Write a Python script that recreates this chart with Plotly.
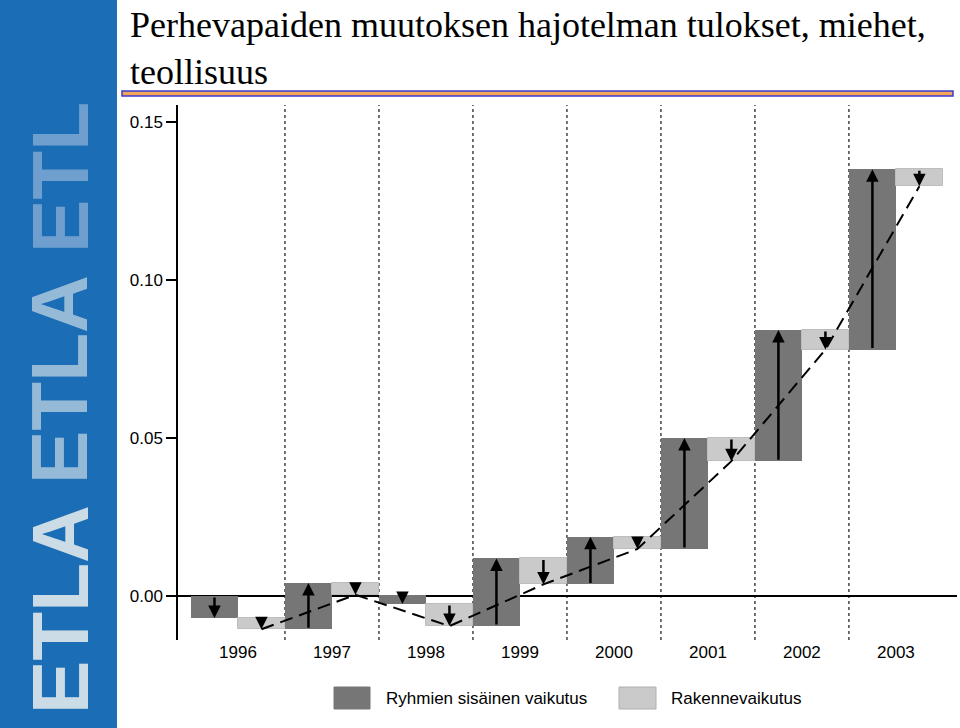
import plotly.graph_objects as go

# ---------------- data ----------------
years = ["1996", "1997", "1998", "1999", "2000", "2001", "2002", "2003"]
within_effect = [-0.0069, 0.0146, -0.0029, 0.0214, 0.0151, 0.0351, 0.0415, 0.0571]
structure_effect = [-0.0036, -0.0037, -0.0070, -0.0082, -0.0039, -0.0073, -0.0062, -0.0054]
series_names = ["Ryhmien sisäinen vaikutus", "Rakennevaikutus"]
y_ticks = [0.00, 0.05, 0.10, 0.15]
title_text = "Perhevapaiden muutoksen hajotelman tulokset, miehet,<br>teollisuus"
logo_words = ["ETLA", "ETLA", "ETL"]

# ---------------- styles ----------------
DARK = "#767676"
LIGHT = "#cacaca"
SANS = "Liberation Sans, Arial, sans-serif"
SERIF = "Liberation Serif, Times New Roman, serif"

W, H = 960, 728
ML, MR, MT, MB = 178, 3, 105, 88
PW, PH = W - ML - MR, H - MT - MB


def px_x(p):
    return (p - ML) / PW


def px_y(p):
    return (H - MB - p) / PH


# cumulative waterfall levels
start, mid, end = [], [], []
c = 0.0
for w, s in zip(within_effect, structure_effect):
    start.append(c)
    c += w
    mid.append(c)
    c += s
    end.append(c)

n = len(years)
x_dark = [i + 0.25 for i in range(n)]
x_light = [i + 0.75 for i in range(n)]

fig = go.Figure()
fig.add_trace(go.Bar(
    x=x_dark, y=within_effect, base=start, width=0.5,
    marker=dict(color=DARK, line=dict(width=0)),
    name=series_names[0], showlegend=False, hoverinfo="skip"))
fig.add_trace(go.Bar(
    x=x_light, y=structure_effect, base=mid, width=0.5,
    marker=dict(color=LIGHT, line=dict(color="#bdbdbd", width=1)),
    name=series_names[1], showlegend=False, hoverinfo="skip"))
fig.add_trace(go.Scatter(
    x=x_light, y=end, mode="lines",
    line=dict(color="black", width=2, dash="13px,7px"),
    showlegend=False, hoverinfo="skip"))

annotations = []
for i in range(n):
    for xx, y0, y1 in ((x_dark[i], start[i], mid[i]), (x_light[i], mid[i], end[i])):
        annotations.append(dict(
            x=xx, y=y1, ax=xx, ay=y0, xref="x", yref="y", axref="x", ayref="y",
            text="", showarrow=True, arrowhead=2, arrowsize=1.0, arrowwidth=2.5,
            arrowcolor="black", standoff=0, startstandoff=0))

shapes = []
# left logo strip
shapes.append(dict(type="rect", xref="paper", yref="paper",
                   x0=px_x(0), x1=px_x(117), y0=px_y(728), y1=px_y(0),
                   fillcolor="#1b6db5", line=dict(width=0), layer="below"))
logo_centers = [610, 380, 178]
logo_colors = ["rgba(218,230,234,0.92)", "rgba(170,200,222,0.85)", "rgba(125,168,210,0.85)"]
for word, cy, col in zip(logo_words, logo_centers, logo_colors):
    annotations.append(dict(
        xref="paper", yref="paper", x=px_x(60), y=px_y(cy), text=word,
        textangle=-90, showarrow=False, xanchor="center", yanchor="middle",
        font=dict(family="Liberation Sans", size=80, color=col, weight="bold")))
# title
annotations.append(dict(
    xref="paper", yref="paper", x=px_x(128), y=px_y(3), text=title_text,
    showarrow=False, xanchor="left", yanchor="top", align="left",
    font=dict(family=SERIF, size=36, color="black")))
# title underline
shapes.append(dict(type="rect", xref="paper", yref="paper",
                   x0=px_x(122), x1=px_x(953), y0=px_y(96), y1=px_y(91),
                   fillcolor="#f2a65a", line=dict(color="#3b3bd0", width=1.5)))
# dotted separators
for i in range(1, n):
    shapes.append(dict(type="line", xref="x", yref="paper", x0=i, x1=i, y0=0, y1=1,
                       line=dict(color="#444444", width=1.5, dash="dot"), layer="below"))
# manual legend
legend_items = [(334, 370, 384, DARK), (619, 656, 669, LIGHT)]
for (bx0, bx1, tx, col), name in zip(legend_items, series_names):
    shapes.append(dict(type="rect", xref="paper", yref="paper",
                       x0=px_x(bx0), x1=px_x(bx1), y0=px_y(709), y1=px_y(687),
                       fillcolor=col, line=dict(color="#b0b0b0" if col == LIGHT else col, width=1)))
    annotations.append(dict(xref="paper", yref="paper", x=px_x(tx), y=px_y(698),
                            text=name, showarrow=False, xanchor="left", yanchor="middle",
                            font=dict(family=SANS, size=17, color="black")))

fig.update_layout(
    width=W, height=H, autosize=False,
    margin=dict(l=ML, r=MR, t=MT, b=MB, pad=0),
    paper_bgcolor="white", plot_bgcolor="white",
    barmode="overlay", bargap=0,
    xaxis=dict(range=[-0.138, 8.15], tickvals=[i + 0.5 for i in range(n)], ticktext=years,
               showline=False, showgrid=False, zeroline=False, ticks="",
               tickfont=dict(family=SANS, size=17, color="black"), fixedrange=True),
    yaxis=dict(range=[-0.0139, 0.1554], tickvals=y_ticks, tickformat=".2f",
               ticks="outside", ticklen=10, tickwidth=1.5, tickcolor="black",
               showline=True, linewidth=1.5, linecolor="black",
               zeroline=True, zerolinecolor="black", zerolinewidth=1.5,
               showgrid=False, tickfont=dict(family=SANS, size=17, color="black"),
               fixedrange=True),
    shapes=shapes, annotations=annotations, showlegend=False,
)

fig.write_html("out.html")
